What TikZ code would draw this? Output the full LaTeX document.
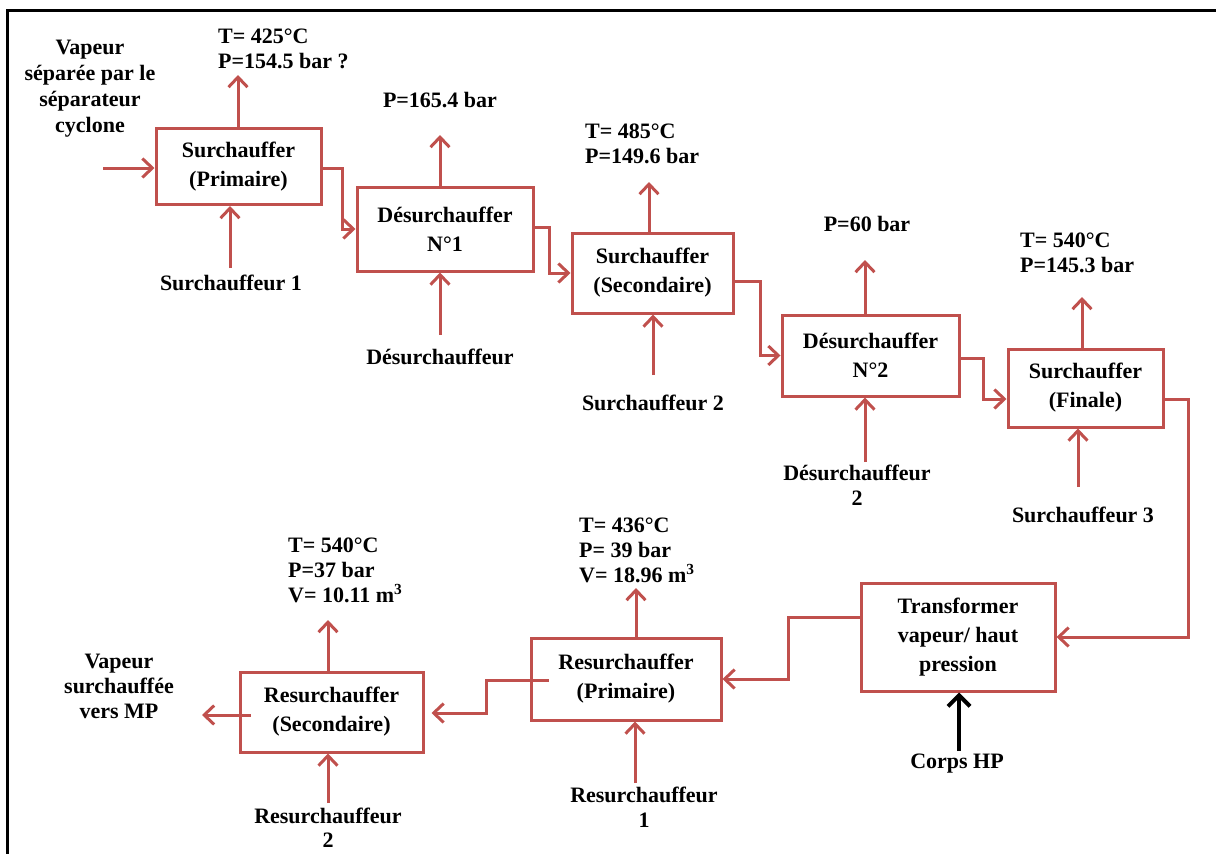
\documentclass[tikz,border=0pt]{standalone}
\usepackage{fontspec}
\setmainfont{Liberation Serif}
\usetikzlibrary{arrows.meta,calc}
\definecolor{rd}{RGB}{192,80,77}
\begin{document}
\begin{tikzpicture}[x=1pt,y=-1pt,
  box/.style={draw=rd, line width=3pt, align=center, inner sep=0pt, font=\bfseries\fontsize{22}{29}\selectfont},
  lbl/.style={align=center, inner sep=0pt, font=\bfseries\fontsize{22}{25}\selectfont},
  lbll/.style={lbl, align=left, anchor=west},
  flow/.style={draw=rd, line width=3pt, -{Straight Barb[length=10pt,width=19pt]}},
  blackflow/.style={draw=black, line width=4pt, -{Straight Barb[length=11pt,width=22pt]}},
]
\useasboundingbox (0,0) rectangle (1216,854);
\draw[line width=3pt] (1216,10) -- (7,10) -- (7,854);

% boxes
\node[box, minimum width=165pt, minimum height=76pt] (b1) at (238.5,166.5) {Surchauffer\\(Primaire)};
\node[box, minimum width=176pt, minimum height=84pt] (b2) at (445,229) {Désurchauffer\\N°1};
\node[box, minimum width=161pt, minimum height=80pt] (b3) at (652.5,273) {Surchauffer\\(Secondaire)};
\node[box, minimum width=177pt, minimum height=81pt] (b4) at (870.5,355.5) {Désurchauffer\\N°2};
\node[box, minimum width=155pt, minimum height=78pt] (b5) at (1085.5,388) {Surchauffer\\(Finale)};
\node[box, minimum width=194pt, minimum height=108pt] (tr) at (958,637) {Transformer\\vapeur/ haut\\pression};
\node[box, minimum width=190pt, minimum height=82pt] (rp) at (626,679) {Resurchauffer\\(Primaire)};
\node[box, minimum width=183pt, minimum height=80pt] (rs) at (331.5,712) {Resurchauffer\\(Secondaire)};

% labels
\node[lbl, font=\bfseries\fontsize{22}{26}\selectfont] (vin) at (90,89) {Vapeur\\séparée par le\\séparateur\\cyclone};
\node[lbll] (l1t) at (218,49) {T= 425°C\\P=154.5 bar ?};
\node[lbl] (l1b) at (231,283) {Surchauffeur 1};
\node[lbl] (l2t) at (440,100) {P=165.4 bar};
\node[lbl] (l2b) at (440,357) {Désurchauffeur};
\node[lbll] (l3t) at (585,143.5) {T= 485°C\\P=149.6 bar};
\node[lbl] (l3b) at (653,403) {Surchauffeur 2};
\node[lbl] (l4t) at (867,224) {P=60 bar};
\node[lbl] (l4b) at (857,485) {Désurchauffeur\\2};
\node[lbll] (l5t) at (1020,253) {T= 540°C\\P=145.3 bar};
\node[lbl] (l5b) at (1083,515) {Surchauffeur 3};
\node[lbl] (ltb) at (957,764) {Corps HP};
\node[lbll] (lrpt) at (579,550) {T= 436°C\\P= 39 bar\\V= 18.96 m\textsuperscript{3}};
\node[lbl] (lrpb) at (644,807) {Resurchauffeur\\1};
\node[lbll] (lrst) at (288,570) {T= 540°C\\P=37 bar\\V= 10.11 m\textsuperscript{3}};
\node[lbl, font=\bfseries\fontsize{22}{24}\selectfont] (lrsb) at (328,828) {Resurchauffeur\\2};
\node[lbl] (vout) at (119,686) {Vapeur\\surchauffée\\vers MP};

% free ends
\coordinate (in1) at (103,168);
\coordinate (out1) at (202,715);
\coordinate (t1) at (238,75);   \coordinate (s1) at (230,268);
\coordinate (t2) at (440,135);  \coordinate (s2) at (440,335);
\coordinate (t3) at (649,182);  \coordinate (s3) at (653,375);
\coordinate (t4) at (865,260);  \coordinate (s4) at (865,462);
\coordinate (t5) at (1082,297); \coordinate (s5) at (1078,487);
\coordinate (str) at (959,751);
\coordinate (trp) at (636,588); \coordinate (srp) at (635,783);
\coordinate (trs) at (328,620); \coordinate (srs) at (328,803);

% inputs / outputs
\draw[flow] (in1) -- (in1 -| b1.west);
\foreach \b/\t/\s in {b1/t1/s1, b2/t2/s2, b3/t3/s3, b4/t4/s4, b5/t5/s5, rp/trp/srp, rs/trs/srs}{
  \draw[flow] (\b.north -| \t) -- (\t);
  \draw[flow] (\s) -- (\s |- \b.south);
}
\draw[blackflow] (str) -- (str |- tr.south);
\draw[flow] ($(rs.west)+(12,3)$) -- (out1);

% chain
\draw[flow] ($(b1.east)+(0,1.5)$) -- ++(20,0) |- (b2.west);
\draw[flow] ($(b2.east)+(0,-2)$) -- ++(15,0) |- (b3.west);
\draw[flow] ($(b3.east)+(0,8)$) -- ++(26,0) |- (b4.west);
\draw[flow] ($(b4.east)+(0,2.5)$) -- ++(23,0) |- ($(b5.west)+(0,11)$);
\draw[flow] ($(b5.east)+(0,11)$) -- ++(24,0) |- (tr.east);
\draw[flow] ($(tr.west)+(0,-20)$) -- ++(-71,0) |- (rp.east);
\draw[flow] ($(rp.west)+(19,1)$) -- ++(-62,0) |- ($(rs.east)+(7,1)$);
\end{tikzpicture}
\end{document}
